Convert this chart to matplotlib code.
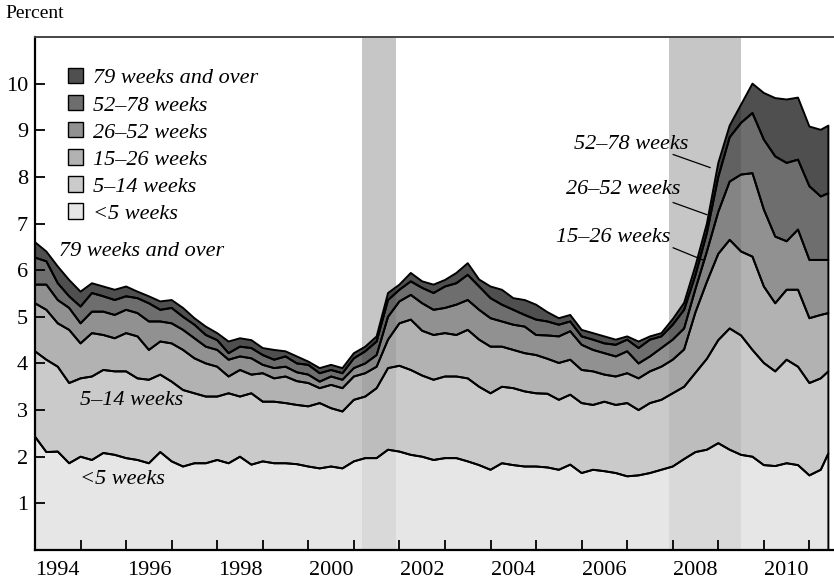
import numpy as np
import matplotlib
matplotlib.use("Agg")
import matplotlib.pyplot as plt
from matplotlib.patches import Patch

plt.rcParams['font.family'] = ['Liberation Serif', 'DejaVu Serif']

# Quarterly readings, months counted from January 1994 (last point ~June 2011)
months = list(range(0, 208, 3)) + [209]

# Unemployment rate by duration of unemployment, percent
lt5 = [2.43, 2.10, 2.11, 1.86, 2.00, 1.93, 2.08, 2.04, 1.97, 1.93,
       1.86, 2.10, 1.90, 1.79, 1.86, 1.86, 1.93, 1.86, 2.00, 1.83,
       1.90, 1.86, 1.86, 1.84, 1.79, 1.75, 1.79, 1.75, 1.90, 1.97,
       1.97, 2.15, 2.11, 2.04, 2.00, 1.93, 1.97, 1.97, 1.90, 1.82,
       1.72, 1.86, 1.82, 1.79, 1.79, 1.77, 1.72, 1.83, 1.65, 1.72,
       1.69, 1.65, 1.58, 1.60, 1.65, 1.72, 1.79, 1.95, 2.10, 2.15,
       2.29, 2.15, 2.04, 2.00, 1.82, 1.80, 1.86, 1.82, 1.60, 1.72, 2.07]
w5_14 = [1.83, 1.98, 1.82, 1.72, 1.68, 1.79, 1.78, 1.79, 1.86, 1.75,
         1.79, 1.66, 1.71, 1.64, 1.50, 1.43, 1.36, 1.50, 1.29, 1.53,
         1.28, 1.32, 1.29, 1.27, 1.29, 1.40, 1.25, 1.22, 1.32, 1.32,
         1.50, 1.75, 1.84, 1.82, 1.74, 1.72, 1.75, 1.75, 1.78, 1.68,
         1.64, 1.64, 1.65, 1.61, 1.57, 1.58, 1.50, 1.50, 1.50, 1.39,
         1.49, 1.46, 1.57, 1.40, 1.50, 1.50, 1.57, 1.55, 1.70, 1.95,
         2.21, 2.60, 2.56, 2.29, 2.19, 2.03, 2.22, 2.11, 1.98, 1.96, 1.76]
w15_26 = [1.03, 1.07, 0.93, 1.14, 0.75, 0.93, 0.75, 0.71, 0.82, 0.90,
          0.64, 0.71, 0.82, 0.86, 0.75, 0.71, 0.64, 0.36, 0.57, 0.40,
          0.61, 0.50, 0.57, 0.51, 0.50, 0.32, 0.50, 0.50, 0.50, 0.50,
          0.46, 0.61, 0.91, 1.08, 0.96, 0.96, 0.93, 0.89, 1.04, 1.01,
          1.00, 0.86, 0.82, 0.82, 0.82, 0.75, 0.79, 0.75, 0.71, 0.72,
          0.58, 0.61, 0.64, 0.68, 0.68, 0.71, 0.72, 0.80, 1.30, 1.65,
          1.85, 1.90, 1.80, 2.00, 1.64, 1.46, 1.50, 1.65, 1.39, 1.36, 1.25]
w26_52 = [0.40, 0.54, 0.50, 0.47, 0.43, 0.46, 0.50, 0.50, 0.50, 0.50,
          0.61, 0.43, 0.43, 0.43, 0.43, 0.36, 0.36, 0.36, 0.29, 0.35,
          0.18, 0.22, 0.21, 0.19, 0.18, 0.14, 0.18, 0.18, 0.18, 0.21,
          0.25, 0.49, 0.47, 0.53, 0.59, 0.54, 0.54, 0.65, 0.64, 0.64,
          0.61, 0.54, 0.54, 0.57, 0.43, 0.50, 0.57, 0.61, 0.54, 0.46,
          0.46, 0.43, 0.47, 0.32, 0.32, 0.40, 0.43, 0.45, 0.50, 0.65,
          0.90, 1.25, 1.65, 1.79, 1.65, 1.43, 1.04, 1.29, 1.25, 1.18, 1.14]
w52_78 = [0.58, 0.50, 0.36, 0.25, 0.36, 0.40, 0.33, 0.32, 0.29, 0.32,
          0.39, 0.25, 0.33, 0.28, 0.29, 0.25, 0.21, 0.14, 0.21, 0.22,
          0.21, 0.18, 0.22, 0.19, 0.21, 0.18, 0.14, 0.14, 0.21, 0.26,
          0.29, 0.36, 0.25, 0.29, 0.33, 0.36, 0.46, 0.46, 0.54, 0.50,
          0.43, 0.36, 0.32, 0.25, 0.33, 0.30, 0.25, 0.21, 0.18, 0.22,
          0.21, 0.25, 0.25, 0.33, 0.36, 0.25, 0.32, 0.40, 0.30, 0.40,
          0.75, 0.95, 1.11, 1.29, 1.50, 1.72, 1.68, 1.50, 1.58, 1.36, 1.43]
w79 = [0.33, 0.21, 0.36, 0.35, 0.32, 0.21, 0.21, 0.22, 0.21, 0.14,
       0.15, 0.18, 0.17, 0.19, 0.14, 0.18, 0.15, 0.25, 0.18, 0.17,
       0.15, 0.21, 0.11, 0.15, 0.07, 0.11, 0.11, 0.11, 0.11, 0.10,
       0.11, 0.15, 0.11, 0.18, 0.14, 0.18, 0.14, 0.22, 0.25, 0.15,
       0.25, 0.32, 0.25, 0.32, 0.32, 0.20, 0.14, 0.14, 0.14, 0.14,
       0.15, 0.11, 0.07, 0.14, 0.07, 0.07, 0.12, 0.15, 0.20, 0.20,
       0.30, 0.25, 0.39, 0.63, 1.00, 1.25, 1.36, 1.33, 1.28, 1.43, 1.45]

labels = ["<5 weeks", "5\u201314 weeks", "15\u201326 weeks", "26\u201352 weeks",
          "52\u201378 weeks", "79 weeks and over"]
# gray levels as seen over white
colors = ["#e6e6e6", "#cbcbcb", "#b2b2b2", "#919191", "#6e6e6e", "#4f4f4f"]

# recessions (decimal years)
recessions = [(2001.17, 2001.92), (2007.92, 2009.5)]

t = 1994 + np.array(months) / 12.0
series = np.array([lt5, w5_14, w15_26, w26_52, w52_78, w79])
tops = np.cumsum(series, axis=0)
bottoms = np.vstack([np.zeros(len(t)), tops[:-1]])

fig = plt.figure(figsize=(8.34, 5.81), dpi=100)
ax = fig.add_axes([35 / 834, 31 / 581, 799 / 834, 513 / 581])

for x0, x1 in recessions:
    ax.axvspan(x0, x1, color="#c6c6c6", lw=0, zorder=0)

# bands are slightly see-through so the recession bars show in them
alpha = 0.77
for lo, hi, c in zip(bottoms, tops, colors):
    g = int(c[1:3], 16)
    g2 = int(round((g - (1 - alpha) * 255) / alpha))
    fc = "#%02x%02x%02x" % (g2, g2, g2)
    ax.fill_between(t, lo, hi, facecolor=fc, alpha=alpha, lw=0, zorder=1)
for lo, hi in zip(bottoms, tops):
    ax.fill_between(t, lo, hi, facecolor="none", edgecolor="black", lw=1.4, zorder=2)

ax.set_xlim(1994, 2011.54)
ax.set_ylim(0, 11)

ax.set_yticks(range(1, 11))
ax.set_xticks(range(1995, 2012))
ax.set_xticklabels([])
ax.set_xticks([y + 0.5 for y in range(1994, 2011, 2)], minor=True)
ax.set_xticklabels([str(y) for y in range(1994, 2011, 2)], minor=True)
ax.tick_params(axis="x", which="major", direction="in", length=7, width=1.3)
ax.tick_params(axis="x", which="minor", length=0, pad=8, labelsize=16)
ax.tick_params(axis="y", direction="in", length=7, width=1.3, pad=5, labelsize=16)

ax.spines["right"].set_visible(False)
ax.spines["top"].set_color("#444444")
ax.spines["top"].set_linewidth(1.4)
ax.spines["left"].set_linewidth(1.6)
ax.spines["bottom"].set_linewidth(1.6)

handles = [Patch(facecolor=c, edgecolor="black", lw=1.0) for c in colors[::-1]]
ax.legend(handles, labels[::-1], loc="upper left", bbox_to_anchor=(0.041, 0.9395),
          frameon=False, prop={"style": "italic", "size": 16}, handlelength=0.68,
          handleheight=0.68, handletextpad=0.45, labelspacing=0.30, borderpad=0,
          borderaxespad=0)

it = dict(style="italic", fontsize=16, va="center")
ax.text(1994.53, 6.39, "79 weeks and over", ha="left", **it)
ax.text(1994.99, 3.2, "5\u201314 weeks", ha="left", **it)
ax.text(1994.99, 1.52, "<5 weeks", ha="left", **it)
ax.text(2008.35, 8.7, "52\u201378 weeks", ha="right", **it)
ax.text(2008.17, 7.73, "26\u201352 weeks", ha="right", **it)
ax.text(2007.94, 6.7, "15\u201326 weeks", ha="right", **it)
ax.plot([2008.01, 2008.82], [8.48, 8.2], color="black", lw=0.9, zorder=3)
ax.plot([2008.01, 2008.75], [7.45, 7.19], color="black", lw=0.9, zorder=3)
ax.plot([2008.01, 2008.66], [6.48, 6.22], color="black", lw=0.9, zorder=3)

fig.text(5 / 834, 1 - 14 / 581, "Percent", fontsize=14, va="center", ha="left")

fig.savefig("out.png", dpi=100)
